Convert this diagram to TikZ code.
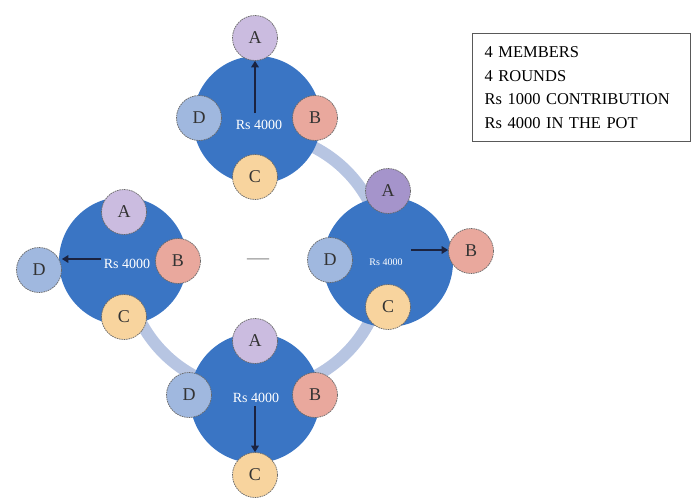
\documentclass[tikz,border=0pt]{standalone}
\usepackage{fontspec}
\setmainfont{Liberation Serif}
\usetikzlibrary{arrows.meta}

\definecolor{potblue}{HTML}{3A75C4}
\definecolor{ringblue}{HTML}{B7C5E2}
\definecolor{memA}{HTML}{CBBCE0}
\definecolor{memAdark}{HTML}{A594CB}
\definecolor{memB}{HTML}{E9A89D}
\definecolor{memC}{HTML}{F8D49E}
\definecolor{memD}{HTML}{A0B8DF}
\definecolor{arrowink}{HTML}{1B2340}

\tikzset{
  pot/.style={circle, fill=potblue, minimum size=#1, inner sep=0pt},
  member/.style={circle, fill=#1, draw=black!60, line width=0.7pt,
    dash pattern=on 1.6pt off 0.8pt, minimum size=45pt, inner sep=0pt,
    text=black!80, font=\fontsize{18}{18}\selectfont},
  amount/.style={text=white, inner sep=1pt, font=\fontsize{#1}{#1}\selectfont},
  payout/.style={draw=arrowink, line width=2.2pt,
    -{Triangle[length=6.5pt,width=7.5pt]}},
  ring/.style={draw=ringblue, line width=12pt},
  legend/.style={draw=black!65, line width=1.2pt, align=left,
    text width=194pt, minimum width=218pt, minimum height=108pt,
    inner xsep=12pt, font=\fontsize{16.5}{23.5}\selectfont}
}

\begin{document}
\begin{tikzpicture}[x=1pt, y=-1pt]
  \useasboundingbox (0,0) rectangle (699,498);

  % rotation ring joining the rounds
  \coordinate (hub) at (255,262);
  \draw[ring] (hub) ++(0:129) arc[start angle=0, end angle=-90, radius=129];
  \draw[ring] (hub) ++(0:129) arc[start angle=0, end angle=90, radius=129];
  \draw[ring] (hub) ++(90:129) arc[start angle=90, end angle=180, radius=129];

  % round 1 (top): A receives the pot
  \node[pot=128pt] (tP) at (257,120) {};
  \node[member=memA] (tA) at (255,38) {A};
  \node[member=memB] (tB) at (315,118) {B};
  \node[member=memC] (tC) at (255,177) {C};
  \node[member=memD] (tD) at (199,118) {D};
  \node[amount=14] (tR) at (259,125) {Rs 4000};
  \coordinate (tS) at (255,113);
  \draw[payout] (tS) -- (tA.south);

  % round 2 (right): B receives the pot
  \node[pot=130pt] (rP) at (388,262) {};
  \node[member=memAdark] (rA) at (388,191) {A};
  \node[member=memB] (rB) at (471,251) {B};
  \node[member=memC] (rC) at (388,307) {C};
  \node[member=memD] (rD) at (330,260) {D};
  \node[amount=10] (rR) at (386,262) {Rs 4000};
  \coordinate (rS) at (411,250);
  \draw[payout] (rS) -- (rS -| rB.west);

  % round 3 (bottom): C receives the pot
  \node[pot=130pt] (bP) at (255,398) {};
  \node[member=memA] (bA) at (255,341) {A};
  \node[member=memB] (bB) at (315,395) {B};
  \node[member=memC] (bC) at (255,475) {C};
  \node[member=memD] (bD) at (189,395) {D};
  \node[amount=14] (bR) at (256,398) {Rs 4000};
  \coordinate (bS) at (255,406);
  \draw[payout] (bS) -- (bC.north);

  % round 4 (left): D receives the pot
  \node[pot=128pt] (lP) at (123,261) {};
  \node[member=memA] (lA) at (124,212) {A};
  \node[member=memB] (lB) at (178,261) {B};
  \node[member=memC] (lC) at (124,317) {C};
  \node[member=memD] (lD) at (39,270) {D};
  \node[amount=14] (lR) at (127,264) {Rs 4000};
  \coordinate (lS) at (101,259);
  \draw[payout] (lS) -- (lS -| lD.east);

  % centre mark
  \node[text=black!45, font=\fontsize{22}{22}\selectfont] (mid) at (258,262) {—};

  % scheme summary
  \node[legend, anchor=north west] (key) at (472,33)
    {4 MEMBERS\\4 ROUNDS\\Rs 1000 CONTRIBUTION\\Rs 4000 IN THE POT};
\end{tikzpicture}
\end{document}
